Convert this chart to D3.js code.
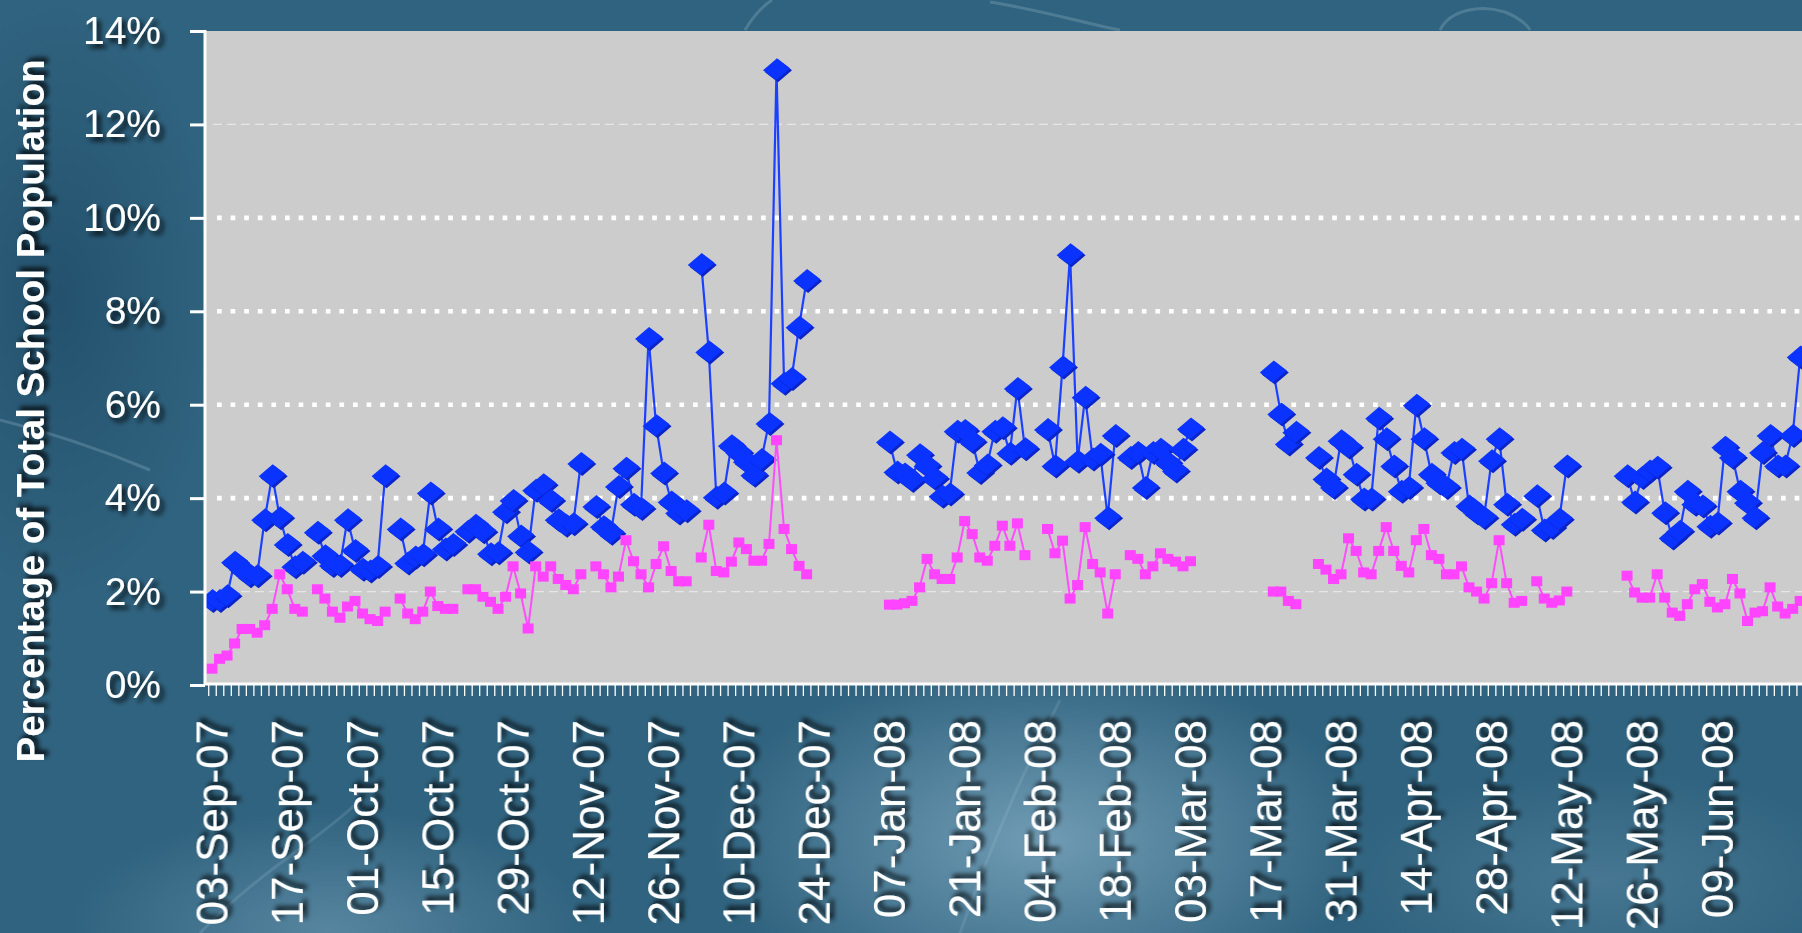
<!DOCTYPE html>
<html>
<head>
<meta charset="utf-8">
<script src="https://cdn.jsdelivr.net/npm/d3@7"></script>
<style>
html,body{margin:0;padding:0;overflow:hidden;background:#30647f}
svg{display:block}
</style>
</head>
<body>
<svg id="chart" width="1802" height="933"></svg>
<script>
// ---------------- DATA ----------------
// x-axis labels (every 10th weekday category)
const tickLabels = ["03-Sep-07","17-Sep-07","01-Oct-07","15-Oct-07","29-Oct-07","12-Nov-07","26-Nov-07","10-Dec-07","24-Dec-07","07-Jan-08","21-Jan-08","04-Feb-08","18-Feb-08","03-Mar-08","17-Mar-08","31-Mar-08","14-Apr-08","28-Apr-08","12-May-08","26-May-08","09-Jun-08"];
const labelStep = 10;
const yTicks = [0,2,4,6,8,10,12,14];
const boldGrid = [4,6,8,10];
const faintGrid = [2,12];

// Series 1 (blue diamonds), percent, one value per weekday category (null = no data)
const blueSeries = [
1.82,1.82,1.92,2.64,2.49,2.35,2.35,3.55,4.49,3.59,
3.02,2.54,2.64,null,3.28,2.78,2.57,2.57,3.55,2.89,
2.49,2.45,2.55,4.49,null,3.35,2.62,2.75,2.80,4.12,
3.35,2.92,3.02,null,3.30,3.43,3.29,2.82,2.84,3.72,
3.96,3.20,2.86,4.18,4.30,3.96,3.55,3.43,3.46,4.75,
null,3.83,3.40,3.26,4.26,4.65,3.88,3.79,7.43,5.56,
4.55,3.93,3.69,3.74,null,9.01,7.14,4.03,4.12,5.13,
4.98,4.79,4.50,4.84,5.61,13.18,6.47,6.57,7.67,8.67,
null,null,null,null,null,null,null,null,null,null,
5.21,4.57,4.53,4.39,4.94,4.70,4.43,4.05,4.10,5.44,
5.46,5.22,4.56,4.72,5.44,5.52,4.97,6.36,5.07,null,
null,5.48,4.70,6.82,9.22,4.80,6.17,4.85,4.95,3.59,
5.35,null,4.88,4.99,4.24,4.99,5.06,4.77,4.59,5.06,
5.49,null,null,null,null,null,null,null,null,null,
null,6.71,5.81,5.17,5.42,null,null,4.88,4.42,4.24,
5.24,5.10,4.52,3.99,3.99,5.72,5.28,4.70,4.16,4.24,
6.00,5.28,4.52,4.34,4.24,4.99,5.06,3.84,3.70,3.59,
4.81,5.28,3.88,3.45,3.56,null,4.06,3.33,3.38,3.56,
4.70,null,null,null,null,null,null,null,4.49,3.93,
4.45,4.59,4.67,3.70,3.16,3.30,4.16,3.88,3.84,3.41,
3.48,5.10,4.88,4.16,3.91,3.59,4.99,5.35,4.70,4.70,
5.35,7.03
];

// Series 2 (magenta squares)
const pinkSeries = [
0.35,0.56,0.63,0.89,1.20,1.20,1.12,1.28,1.63,2.37,
2.05,1.63,1.57,null,2.05,1.85,1.57,1.44,1.68,1.80,
1.53,1.41,1.37,1.57,null,1.85,1.53,1.41,1.57,2.00,
1.69,1.63,1.63,null,2.05,2.05,1.89,1.78,1.63,1.89,
2.54,1.96,1.21,2.54,2.32,2.54,2.27,2.14,2.05,2.37,
null,2.54,2.37,2.09,2.32,3.10,2.65,2.37,2.09,2.59,
2.97,2.44,2.22,2.22,null,2.73,3.43,2.44,2.41,2.64,
3.05,2.91,2.66,2.66,3.02,5.24,3.34,2.91,2.55,2.37,
null,null,null,null,null,null,null,null,null,null,
1.72,1.72,1.75,1.80,2.09,2.70,2.37,2.27,2.27,2.73,
3.51,3.23,2.73,2.66,2.98,3.41,2.98,3.46,2.78,null,
null,3.34,2.82,3.09,1.85,2.14,3.38,2.59,2.41,1.53,
2.37,null,2.78,2.70,2.37,2.54,2.82,2.70,2.64,2.54,
2.65,null,null,null,null,null,null,null,null,null,
null,2.00,2.00,1.80,1.73,null,null,2.59,2.47,2.27,
2.37,3.14,2.87,2.41,2.37,2.87,3.38,2.87,2.55,2.41,
3.10,3.34,2.78,2.70,2.37,2.37,2.54,2.09,2.00,1.85,
2.18,3.10,2.18,1.76,1.80,null,2.22,1.85,1.76,1.81,
2.00,null,null,null,null,null,null,null,2.34,1.98,
1.87,1.87,2.37,1.87,1.55,1.48,1.73,2.05,2.16,1.78,
1.66,1.73,2.27,1.96,1.37,1.55,1.58,2.09,1.68,1.53,
1.63,1.80
];

const yTitle = "Percentage of Total School Population";

// ---------------- LAYOUT ----------------
const W = 1802, H = 933;
const plot = {left: 205, top: 31, right: 1802, bottom: 685};
const firstX = 212, step = 7.527;

const svg = d3.select("#chart");
const defs = svg.append("defs");

// text shadow
const f = defs.append("filter").attr("id","shadow").attr("x","-20%").attr("y","-20%").attr("width","160%").attr("height","160%");
f.append("feDropShadow").attr("dx",4).attr("dy",4).attr("stdDeviation",2.5)
  .attr("flood-color","#000").attr("flood-opacity",0.85);

// background
const g1 = defs.append("radialGradient").attr("id","bgA").attr("cx","50%").attr("cy","50%").attr("r","50%");
g1.append("stop").attr("offset","0%").attr("stop-color","#86afc6").attr("stop-opacity",0.75);
g1.append("stop").attr("offset","100%").attr("stop-color","#86afc6").attr("stop-opacity",0);
const g2 = defs.append("radialGradient").attr("id","bgB").attr("cx","50%").attr("cy","50%").attr("r","50%");
g2.append("stop").attr("offset","0%").attr("stop-color","#1e4a66").attr("stop-opacity",0.7);
g2.append("stop").attr("offset","100%").attr("stop-color","#1e4a66").attr("stop-opacity",0);

svg.append("rect").attr("width",W).attr("height",H).attr("fill","#30637f");
svg.append("ellipse").attr("cx",1040).attr("cy",840).attr("rx",330).attr("ry",180).attr("fill","url(#bgA)");
svg.append("ellipse").attr("cx",330).attr("cy",930).attr("rx",260).attr("ry",120).attr("fill","url(#bgA)").attr("opacity",0.6);
svg.append("ellipse").attr("cx",1600).attr("cy",880).attr("rx",260).attr("ry",110).attr("fill","url(#bgA)").attr("opacity",0.35);
svg.append("ellipse").attr("cx",60).attr("cy",300).attr("rx",160).attr("ry",300).attr("fill","url(#bgB)");
// faint swirl strokes
const sw = svg.append("g").attr("fill","none").attr("stroke","#bcd6e4").attr("stroke-opacity",0.22).attr("stroke-width",3);
sw.append("path").attr("d","M745,30 C752,18 760,8 772,0");
sw.append("path").attr("d","M990,2 C1040,10 1080,22 1120,30");
sw.append("path").attr("d","M1440,30 C1450,10 1480,4 1505,12 C1520,18 1528,26 1530,30");
sw.append("path").attr("d","M0,420 C40,430 90,445 150,470");
sw.append("path").attr("d","M1060,700 C1030,760 1000,820 960,933").attr("stroke-opacity",0.14);
sw.append("path").attr("d","M200,933 C260,870 320,840 360,800").attr("stroke-opacity",0.16);

// scales
const x = d3.scaleLinear().domain([0, blueSeries.length - 1])
  .range([firstX, firstX + step * (blueSeries.length - 1)]);
const y = d3.scaleLinear().domain([0, 14]).range([plot.bottom, plot.top]);

// plot area
svg.append("rect").attr("x",plot.left).attr("y",plot.top)
  .attr("width",plot.right - plot.left).attr("height",plot.bottom - plot.top)
  .attr("fill","#cccccc");

// gridlines
svg.append("g").selectAll("line").data(faintGrid).join("line")
  .attr("x1",plot.left+8).attr("x2",plot.right)
  .attr("y1",d=>y(d)).attr("y2",d=>y(d))
  .attr("stroke","#e6e6e6").attr("stroke-width",1.2).attr("stroke-dasharray","9,5");
svg.append("g").selectAll("line").data(boldGrid).join("line")
  .attr("x1",plot.left+12).attr("x2",plot.right)
  .attr("y1",d=>y(d)).attr("y2",d=>y(d))
  .attr("stroke","#ffffff").attr("stroke-width",4.6).attr("stroke-dasharray","4.7,8.9");

// series
const clip = defs.append("clipPath").attr("id","plotclip");
clip.append("rect").attr("x",plot.left).attr("y",0).attr("width",plot.right-plot.left).attr("height",plot.bottom+8);

const dataArea = svg.append("g").attr("clip-path","url(#plotclip)");
const line = d3.line().defined(d => d.v != null).x(d => x(d.i)).y(d => y(d.v));

const blueData = blueSeries.map((v,i)=>({i,v}));
const pinkData = pinkSeries.map((v,i)=>({i,v}));

dataArea.append("path").datum(blueData).attr("d",line)
  .attr("fill","none").attr("stroke","#1c40ff").attr("stroke-width",2.2);
const diamond = "M-13.5,1 L0.5,-11 L13.5,-1 L-0.5,11 Z";
const bm = dataArea.append("g").selectAll("g").data(blueData.filter(d=>d.v!=null)).join("g")
  .attr("transform",d=>`translate(${x(d.i)},${y(d.v)})`);
bm.append("path").attr("d",diamond).attr("transform","translate(2,2)").attr("fill","#0a24c8");
bm.append("path").attr("d",diamond).attr("fill","#0b33ff");

dataArea.append("path").datum(pinkData).attr("d",line)
  .attr("fill","none").attr("stroke","#ff4cff").attr("stroke-width",2);
dataArea.append("g").selectAll("rect").data(pinkData.filter(d=>d.v!=null)).join("rect")
  .attr("x",d=>x(d.i)-5.5).attr("y",d=>y(d.v)-5)
  .attr("width",11).attr("height",10).attr("fill","#ff44ff");

// axes
const axisY = 684;
const yAxis = d3.axisLeft(y).tickValues(yTicks).tickFormat(d => d + "%").tickSize(15).tickPadding(29);
const gy = svg.append("g").attr("transform",`translate(${plot.left},0)`).call(yAxis);
gy.select(".domain").remove();
gy.selectAll(".tick line").attr("stroke","#fff").attr("stroke-width",3);
gy.selectAll(".tick text").attr("fill","#fff").attr("font-family","'Liberation Sans', Arial, sans-serif")
  .attr("font-size",39).attr("filter","url(#shadow)");

// minor daily ticks (category boundaries)
const minor = d3.range(-0.5, 214, 1).filter(v => x(v) >= plot.left && x(v) <= W);
const xMinor = d3.axisBottom(x).tickValues(minor).tickFormat("").tickSize(12);
const gxm = svg.append("g").attr("transform",`translate(0,${axisY})`).call(xMinor);
gxm.select(".domain").remove();
gxm.selectAll(".tick line").attr("stroke","#fff").attr("stroke-width",1.3);

// labels
const labelIdx = tickLabels.map((t,k)=>k*labelStep);
const xAxis = d3.axisBottom(x).tickValues(labelIdx).tickFormat((d,k)=>tickLabels[k]).tickSize(0);
const gx = svg.append("g").attr("transform",`translate(0,${axisY})`).call(xAxis);
gx.select(".domain").remove();
gx.selectAll(".tick text")
  .attr("transform","rotate(-90)")
  .attr("x",-36).attr("y",0).attr("dy","0.34em")
  .attr("text-anchor","end")
  .attr("fill","#fff").attr("font-family","'Liberation Sans', Arial, sans-serif")
  .attr("font-size",44).attr("filter","url(#shadow)");

// axis lines
svg.append("line").attr("x1",plot.left).attr("x2",plot.left).attr("y1",plot.top-1).attr("y2",axisY+1)
  .attr("stroke","#fff").attr("stroke-width",3);
svg.append("line").attr("x1",plot.left-1).attr("x2",W).attr("y1",axisY).attr("y2",axisY)
  .attr("stroke","#fff").attr("stroke-width",3);

// y title
svg.append("text").attr("transform","translate(44,411) rotate(-90)")
  .attr("text-anchor","middle").attr("fill","#fff")
  .attr("font-family","'Liberation Sans', Arial, sans-serif").attr("font-weight","bold")
  .attr("font-size",38.5).attr("filter","url(#shadow)").text(yTitle);
</script>
</body>
</html>
